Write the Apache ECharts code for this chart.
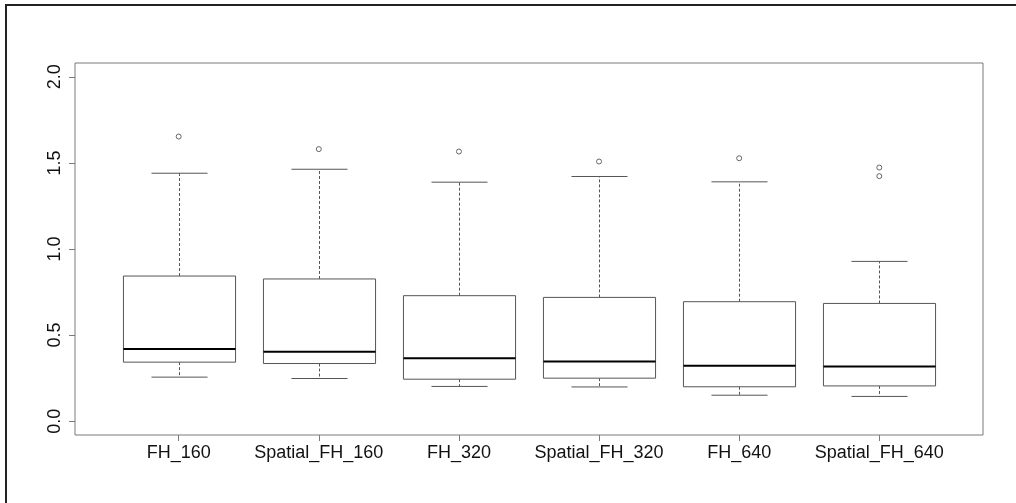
<!DOCTYPE html>
<html>
<head>
<meta charset="utf-8">
<script src="https://cdn.jsdelivr.net/npm/echarts@6/dist/echarts.min.js"></script>
<style>
  html, body { margin: 0; padding: 0; background: #fff; }
  #chart { width: 1016px; height: 503px; }
</style>
</head>
<body>
<div id="chart"></div>
<script>
// Groups along the x axis
const categories = ['FH_160', 'Spatial_FH_160', 'FH_320', 'Spatial_FH_320', 'FH_640', 'Spatial_FH_640'];
// Five-number summaries per group
const lowerWhisker = [0.256, 0.248, 0.202, 0.199, 0.151, 0.144];
const quartile1    = [0.343, 0.335, 0.244, 0.250, 0.200, 0.205];
const medians      = [0.419, 0.403, 0.366, 0.347, 0.322, 0.318];
const quartile3    = [0.843, 0.826, 0.729, 0.719, 0.694, 0.684];
const upperWhisker = [1.440, 1.463, 1.388, 1.421, 1.390, 0.928];
// Points beyond the whiskers: [group index, value]
const outliers = [[0, 1.653], [1, 1.580], [2, 1.566], [3, 1.508], [4, 1.527], [5, 1.473], [5, 1.423]];
// Y axis tick labels
const yTicks = [0, 0.5, 1.0, 1.5, 2.0];

const boxData = categories.map((c, i) => [i + 1, lowerWhisker[i], quartile1[i], medians[i], quartile3[i], upperWhisker[i]]);
const outlierData = outliers.map(o => [o[0] + 1, o[1]]);

const FONT = '"Liberation Sans", Arial, sans-serif';
const LINE = '#555';

function renderBox(params, api) {
  const x = api.value(0);
  const lo = api.coord([x, api.value(1)]);
  const q1 = api.coord([x, api.value(2)]);
  const md = api.coord([x, api.value(3)]);
  const q3 = api.coord([x, api.value(4)]);
  const hi = api.coord([x, api.value(5)]);
  const boxW = api.size([0.8, 0])[0];
  const capW = api.size([0.4, 0])[0];
  const cx = Math.round(q1[0]) + 0.5;
  const dashed = { stroke: LINE, lineWidth: 1, lineDash: [3, 2] };
  const solid = { stroke: LINE, lineWidth: 1 };
  return {
    type: 'group',
    children: [
      { type: 'line', shape: { x1: cx, y1: q3[1], x2: cx, y2: hi[1] }, style: dashed },
      { type: 'line', shape: { x1: cx, y1: q1[1], x2: cx, y2: lo[1] }, style: dashed },
      { type: 'line', shape: { x1: cx - capW / 2, y1: hi[1], x2: cx + capW / 2, y2: hi[1] }, style: solid },
      { type: 'line', shape: { x1: cx - capW / 2, y1: lo[1], x2: cx + capW / 2, y2: lo[1] }, style: solid },
      { type: 'rect', shape: { x: cx - boxW / 2, y: q3[1], width: boxW, height: q1[1] - q3[1] },
        style: { fill: '#fff', stroke: LINE, lineWidth: 1 } },
      { type: 'line', shape: { x1: cx - boxW / 2, y1: md[1], x2: cx + boxW / 2, y2: md[1] },
        style: { stroke: '#000', lineWidth: 2 } }
    ]
  };
}

const chart = echarts.init(document.getElementById('chart'), null, { renderer: 'canvas' });
chart.setOption({
  animation: false,
  backgroundColor: '#fff',
  graphic: [{
    type: 'rect', silent: true, z: 100,
    shape: { x: 6, y: 5, width: 1200, height: 700 },
    style: { fill: 'none', stroke: '#222', lineWidth: 2 }
  }],
  grid: {
    left: 75, top: 63, right: 33, bottom: 68,
    show: true, borderColor: '#7a7a7a', borderWidth: 1, backgroundColor: 'transparent'
  },
  xAxis: {
    type: 'value', min: 0.26, max: 6.74,
    splitLine: { show: false },
    axisLine: { show: false, onZero: false },
    axisTick: { show: true, length: 6, customValues: [1, 2, 3, 4, 5, 6], lineStyle: { color: '#7a7a7a' } },
    axisLabel: {
      show: true, customValues: [1, 2, 3, 4, 5, 6],
      formatter: v => categories[Math.round(v) - 1],
      color: '#111', fontFamily: FONT, fontSize: 18, margin: 9
    }
  },
  yAxis: {
    type: 'value', min: -0.08, max: 2.08,
    splitLine: { show: false },
    axisLine: { show: false, onZero: false },
    axisTick: { show: true, length: 6, customValues: yTicks, lineStyle: { color: '#7a7a7a' } },
    axisLabel: {
      show: true, customValues: yTicks, rotate: 90,
      formatter: v => v.toFixed(1),
      color: '#111', fontFamily: FONT, fontSize: 18, margin: 11
    }
  },
  series: [
    {
      type: 'custom',
      renderItem: renderBox,
      data: boxData,
      encode: { x: 0, y: [1, 2, 3, 4, 5] },
      clip: false
    },
    {
      type: 'scatter',
      data: outlierData,
      symbol: 'circle',
      symbolSize: 5,
      z: 5,
      itemStyle: { color: '#fff', borderColor: '#666', borderWidth: 1, opacity: 1 }
    }
  ]
});
</script>
</body>
</html>
